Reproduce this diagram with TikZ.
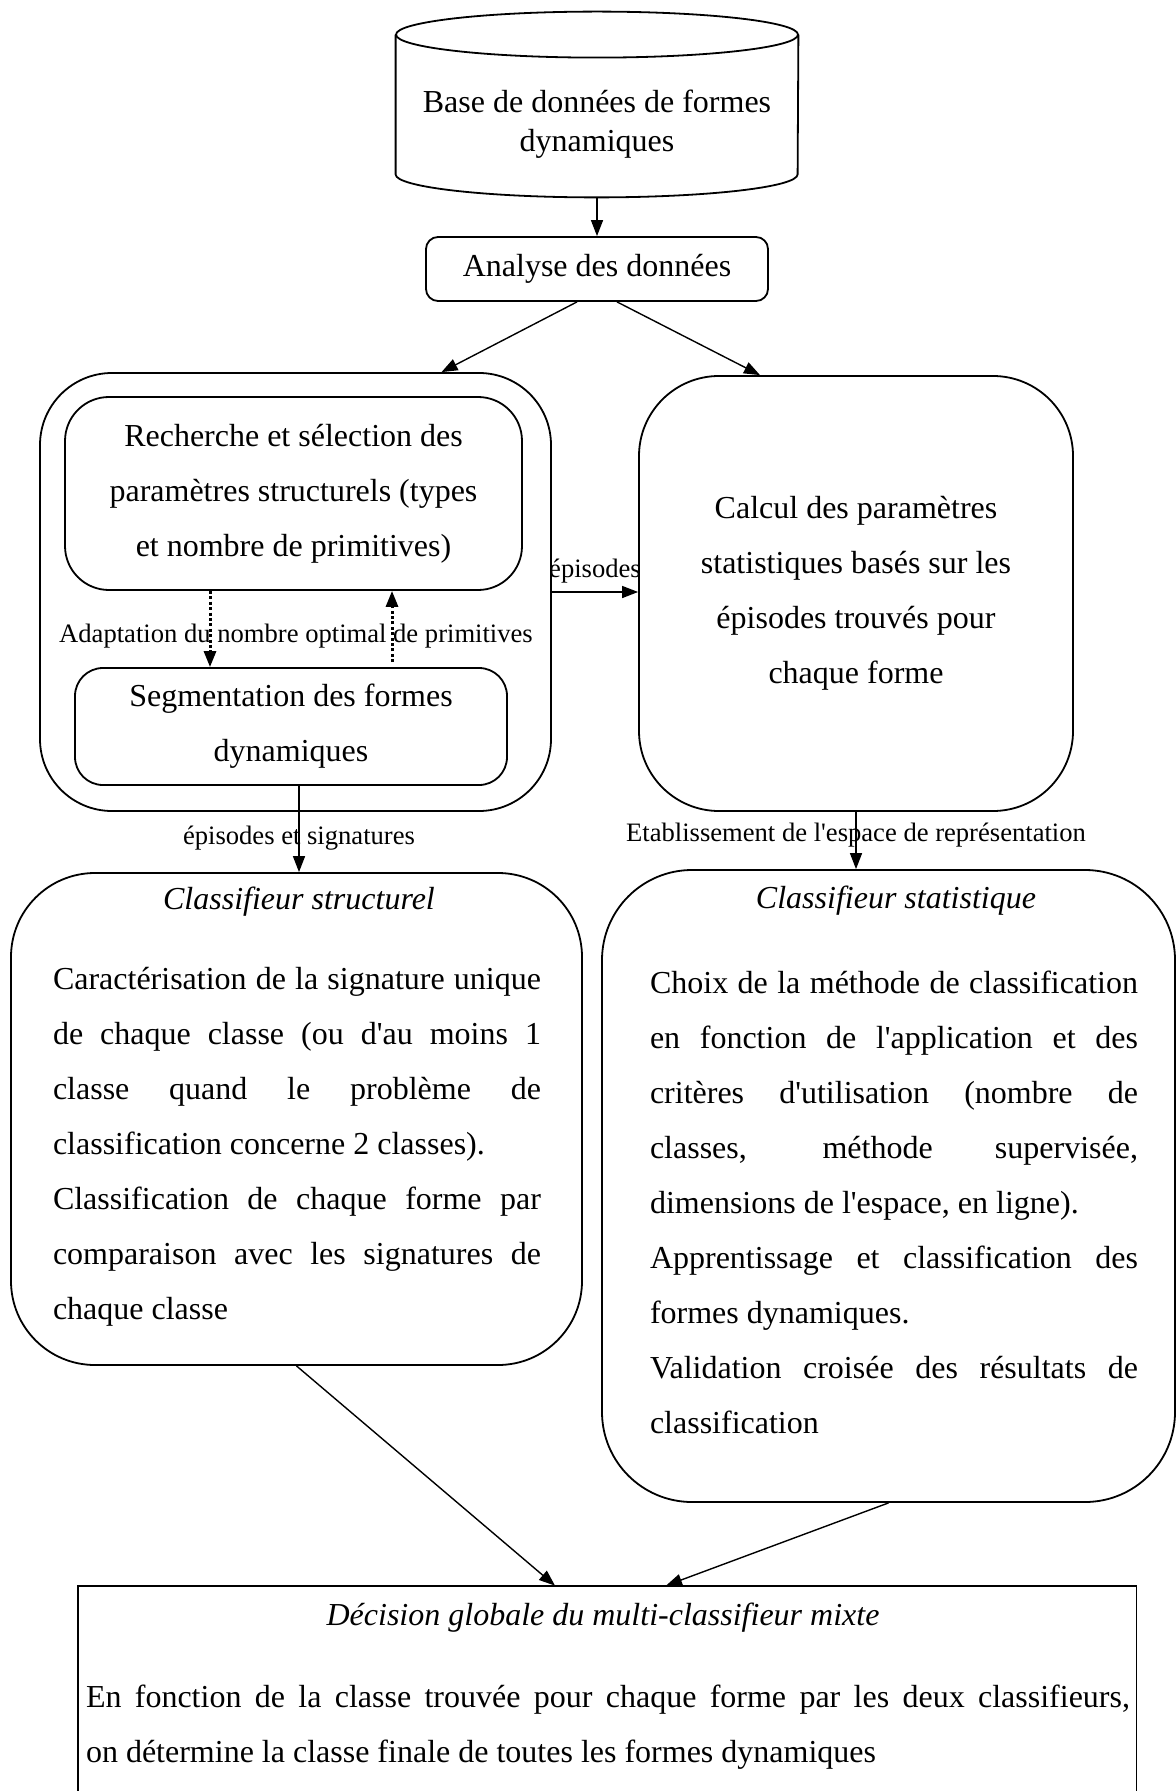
\documentclass[tikz,border=0pt]{standalone}
\usepackage{fontspec}
\setmainfont{Liberation Serif}[Ligatures=TeXOff]
\usepackage{tikz}
\usetikzlibrary{arrows.meta, positioning, calc}
\setlength{\parindent}{0pt}
\definecolor{boxline}{HTML}{000000}
\definecolor{boxtext}{HTML}{000000}
\tikzset{
  dbbox/.style   = {rectangle, draw=none, inner sep=0pt,
                    minimum width=201pt, minimum height=92.5pt},
  dbline/.style  = {draw=boxline, line width=0.9pt},
  blk/.style     = {rectangle, rounded corners=6pt, draw=boxline, line width=0.9pt,
                    align=center, inner sep=0pt, text=boxtext,
                    font=\fontsize{16}{27.5}\selectfont},
  grpblk/.style  = {rectangle, draw=boxline, line width=0.9pt, inner sep=0pt},
  ttl/.style     = {inner sep=0pt, text=boxtext, font=\fontsize{16}{19}\selectfont\itshape},
  bodytxt/.style = {align=justify, inner sep=0pt, text=boxtext,
                    font=\fontsize{16}{27.5}\selectfont},
  lbl/.style     = {inner sep=1pt, text=boxtext, font=\fontsize{13.3}{16}\selectfont},
  flow/.style    = {-{Triangle[length=8pt, width=6pt]}, line width=0.7pt, draw=boxline},
  loopflow/.style= {-{Triangle[length=8pt, width=6pt]}, line width=1.5pt,
                    dash pattern=on 1.5pt off 1.2pt, draw=boxline},
}

\begin{document}
\begin{tikzpicture}[x=0.5pt, y=-0.5pt]
\useasboundingbox (0,0) rectangle (1176,1791);

\node[dbbox] (db) at (597,104.5) {};
\draw[dbline] ([yshift=-11.5pt]db.north west) -- ([yshift=11.5pt]db.south west)
  arc[start angle=180, end angle=360, x radius=100.5pt, y radius=11.5pt]
  -- ([yshift=-11.5pt]db.north east);
\draw[dbline] ([yshift=-11.5pt]db.north) ellipse [x radius=100.5pt, y radius=11.5pt];
\node[align=center, font=\fontsize{16}{19.4}\selectfont]
  (dbtxt) at (597,124) {Base de données de formes\\dynamiques};

\node[blk, minimum width=171pt, minimum height=32pt]
  (ana) at (597,269) {Analyse des données};

\node[grpblk, rounded corners=36pt, minimum width=255.5pt, minimum height=219pt]
  (grp) at (295.5,592) {};
\node[blk, rounded corners=22pt, minimum width=228.5pt, minimum height=96.5pt]
  (rech) at (293.5,493.5) {Recherche et sélection des\\paramètres structurels (types\\et nombre de primitives)};
\node[blk, rounded corners=14pt, minimum width=216pt, minimum height=58.5pt]
  (seg) at (291,726.5) {Segmentation des formes\\dynamiques};
\node[lbl] (adapt) at (296,636) {Adaptation du nombre optimal de primitives};

\node[blk, rounded corners=40pt, minimum width=217pt, minimum height=217.5pt]
  (calc) at (856,593.5) {Calcul des paramètres\\statistiques basés sur les\\épisodes trouvés pour\\chaque forme};

\node[grpblk, rounded corners=42pt, minimum width=285.5pt, minimum height=246pt]
  (cls) at (296.5,1119) {};
\node[ttl] (clsttl) at (299,902) {Classifieur structurel};
\node[bodytxt, text width=244pt] (clsbody) at (297,1147)
  {Caractérisation de la signature unique\linebreak
   de chaque classe (ou d'au moins 1\linebreak
   classe quand le problème de\linebreak
   classification concerne 2 classes).\par
   Classification de chaque forme par\linebreak
   comparaison avec les signatures de\linebreak
   chaque classe};

\node[grpblk, rounded corners=45pt, minimum width=286.5pt, minimum height=316pt]
  (stat) at (888.5,1186) {};
\node[ttl] (statttl) at (896,901) {Classifieur statistique};
\node[bodytxt, text width=244pt] (statbody) at (894,1202.5)
  {Choix de la méthode de classification\linebreak
   en fonction de l'application et des\linebreak
   critères d'utilisation (nombre de\linebreak
   classes, méthode supervisée,\linebreak
   dimensions de l'espace, en ligne).\par
   Apprentissage et classification des\linebreak
   formes dynamiques.\par
   Validation croisée des résultats de\linebreak
   classification};

\node[inner sep=0pt, minimum width=529pt, minimum height=102.5pt]
  (dec) at (607,1688.5) {};
\draw[dbline] (dec.south west) -- (dec.north west) -- (dec.north east) -- (dec.south east);
\node[ttl] (decttl) at (603,1618) {Décision globale du multi-classifieur mixte};
\node[bodytxt, text width=522pt] (decbody) at (608,1727)
  {En fonction de la classe trouvée pour chaque forme par les deux classifieurs,\linebreak
   on détermine la classe finale de toutes les formes dynamiques};

\coordinate (dnx) at (210,0);
\coordinate (upx) at (392,0);
\coordinate (sigx) at (299,0);

\draw[flow] (db.south) -- (ana.north);
\draw[flow] ([xshift=-10pt]ana.south) -- ([xshift=73pt]grp.north);
\draw[flow] ([xshift=10pt]ana.south) -- ([xshift=-48pt]calc.north);
\draw[loopflow] (rech.south -| dnx) -- (seg.north -| dnx);
\draw[loopflow] ([yshift=2.5pt]seg.north -| upx) -- (rech.south -| upx);
\draw[flow] (grp.east) -- (grp.east -| calc.west)
  node[lbl, midway, above=3pt] (epilbl) {épisodes};
\draw[flow] (seg.south -| sigx) -- (cls.north -| sigx)
  node[lbl, pos=0.6] (siglbl) {épisodes et signatures};
\draw[flow] (calc.south) -- (calc.south |- stat.north)
  node[lbl, pos=0.41] (esplbl) {Etablissement de l'espace de représentation};
\draw[flow] (cls.south) -- ([xshift=-26pt]dec.north);
\draw[flow] (stat.south) -- ([xshift=29.5pt]dec.north);
\end{tikzpicture}
\end{document}
